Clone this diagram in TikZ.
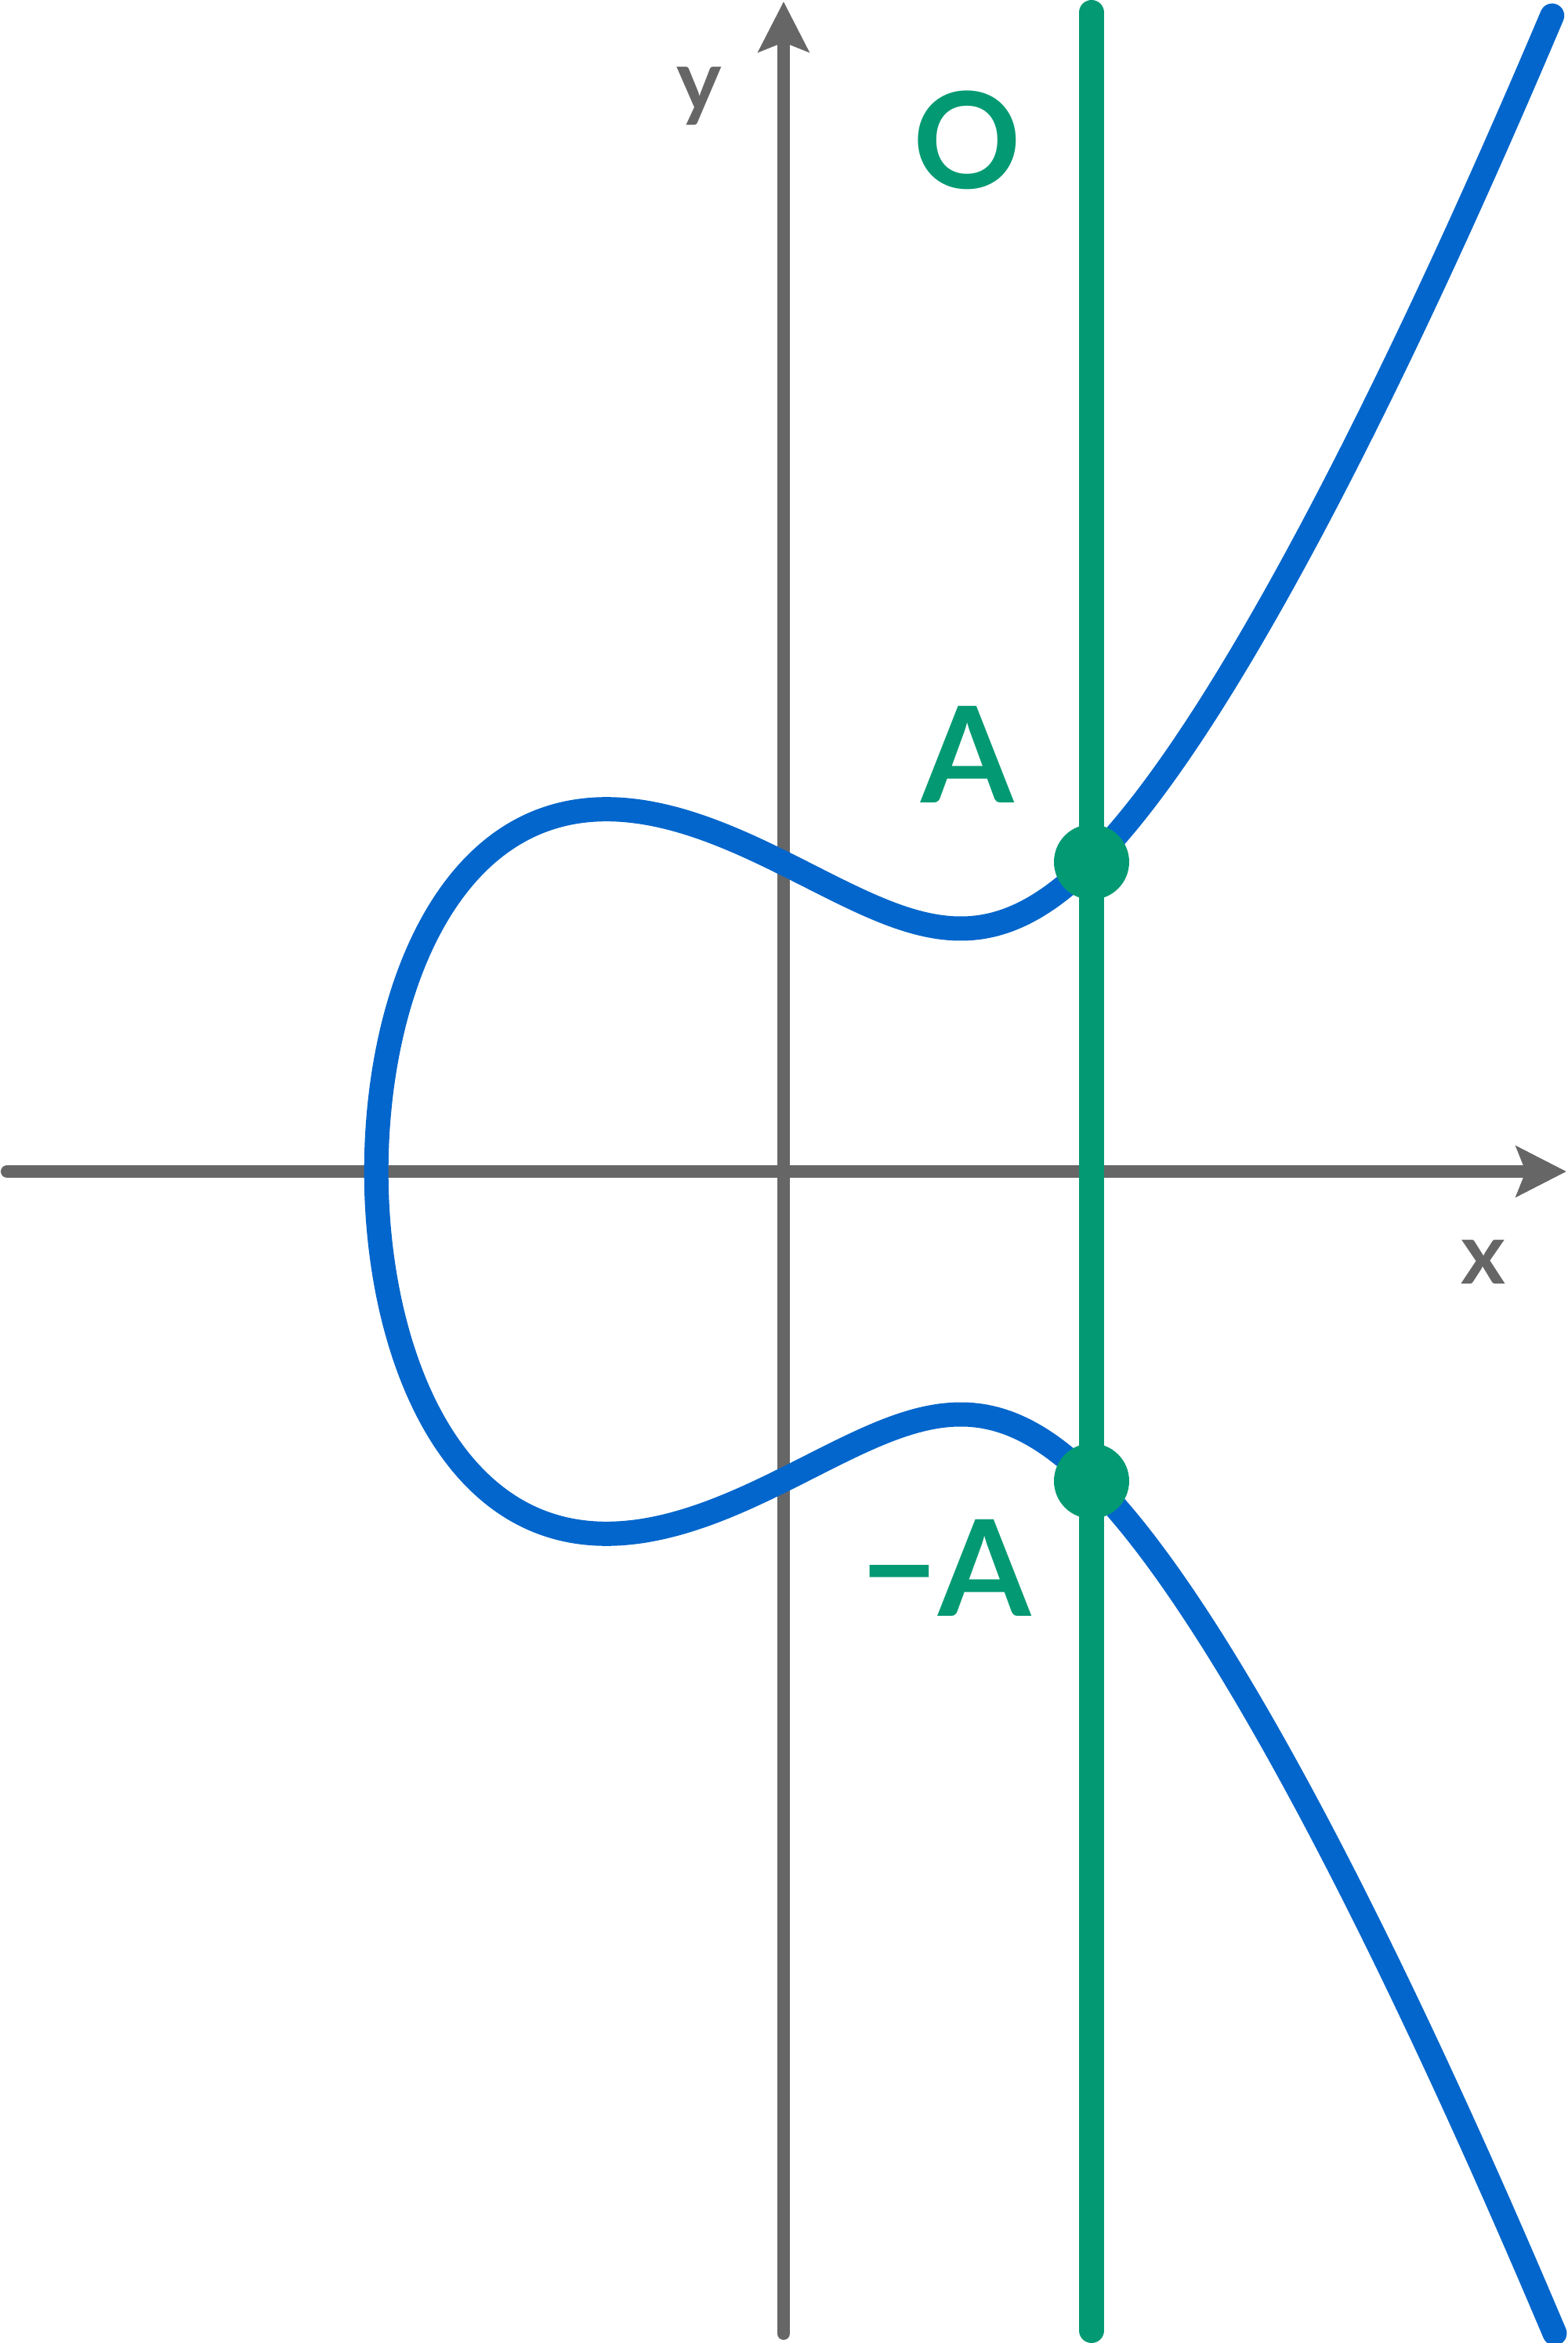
\documentclass[tikz,border=0pt]{standalone}
\usepackage{fontspec}
\setmainfont{Lato}
\usetikzlibrary{arrows.meta}
\definecolor{curveblue}{HTML}{0366CC}
\definecolor{pointgreen}{HTML}{039A73}
\definecolor{axisgray}{HTML}{666666}

\begin{document}
\begin{tikzpicture}[
  axis/.style={draw=axisgray, line width=1.6mm, line cap=round,
    -{Stealth[length=6.4mm, width=6.4mm, inset=1.2mm]}},
  vline/.style={draw=pointgreen, line width=3.2mm, line cap=round},
  curve/.style={draw=curveblue, line width=3.1mm, line cap=round, line join=round},
  dot/.style={circle, fill=pointgreen, minimum size=9.6mm, inner sep=0pt},
  lab/.style={text=pointgreen, inner sep=0pt, anchor=base,
    font=\bfseries\fontsize{48.5}{58}\selectfont},
  axlab/.style={text=axisgray, inner sep=0pt, anchor=base,
    font=\bfseries\fontsize{31}{37}\selectfont}
]
  \useasboundingbox (-10,-14.95) rectangle (10,14.95);

  % axes
  \coordinate (xstart) at (-9.91,0);
  \coordinate (xend) at (9.99,0);
  \coordinate (ybot) at (0,-14.83);
  \coordinate (ytop) at (0,14.93);
  \draw[axis] (xstart) -- (xend);
  \draw[axis] (ybot) -- (ytop);
  \node[axlab] (labx) at (8.93,-1.43) {x};
  \node[axlab] (laby) at (-1.08,13.53) {y};

  % vertical line through A and -A
  \coordinate (ltop) at (3.93,14.79);
  \coordinate (lbot) at (3.93,-14.79);
  \draw[vline] (ltop) -- (lbot);

  % the curve, x = x0 + t^2
  \draw[curve] plot[variable=\t, domain=-2.5795:2.5795, samples=241, smooth]
    ({2.26*(\t*\t-2.3)}, {1.715*\t*sqrt(\t*\t*\t*\t-6.9*\t*\t+12.87)});

  % points and labels
  \node[dot] (A) at (3.93,3.95) {};
  \node[dot] (negA) at (3.93,-3.95) {};
  \node[lab] (labO) at (2.34,12.54) {O};
  \node[lab] (labA) at (2.35,4.70) {A};
  \node[lab] (labnegA) at (2.07,-5.67) {−A};
\end{tikzpicture}
\end{document}
